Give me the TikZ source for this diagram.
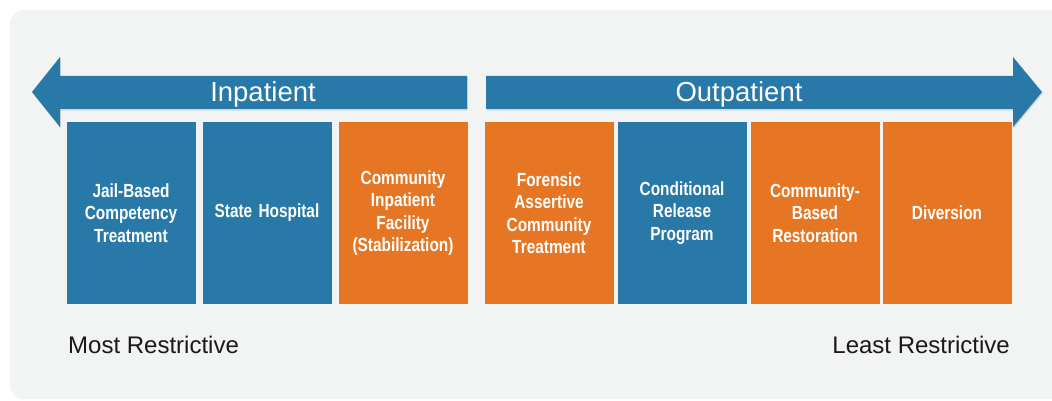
\documentclass[tikz,border=0pt]{standalone}
\usepackage{fontspec}
\setmainfont{Liberation Sans}
\newfontfamily\boxfont[FakeStretch=0.81,WordSpace=0.7]{Liberation Sans}
\usetikzlibrary{shadows}
\definecolor{bg}{RGB}{242,243,243}
\definecolor{cblue}{RGB}{40,120,168}
\definecolor{corange}{RGB}{230,118,36}
\definecolor{ink}{RGB}{25,25,25}
\tikzset{
  box/.style={minimum width=129pt, minimum height=182pt, inner sep=0pt, text width=124pt, align=center, text=white, font=\boxfont\bfseries\fontsize{19}{22.5}\selectfont},
  bluebox/.style={box, fill=cblue},
  orangebox/.style={box, fill=corange},
  band/.style={fill=cblue, drop shadow={opacity=0.25, shadow xshift=0.8pt, shadow yshift=-1.6pt}},
  bandlabel/.style={text=white, font=\fontsize{27.5}{30}\selectfont, inner sep=0pt, anchor=base},
  endlabel/.style={text=ink, font=\fontsize{24}{27}\selectfont, inner sep=0pt}
}
\begin{document}
\begin{tikzpicture}[x=1pt,y=-1pt]
\useasboundingbox (0,0) rectangle (1052,401);
\fill[white] (0,0) rectangle (1052,401);
\begin{scope}
\clip (0,0) rectangle (1052,401);
\fill[bg, rounded corners=14pt] (10,10) rectangle (1075,399);
\end{scope}

% arrows
\fill[band] (32,92) -- (60,57) -- (60,76) -- (467,76) -- (467,109) -- (60,109) -- (60,127) -- cycle;
\fill[band] (486,76) -- (1013,76) -- (1013,57) -- (1042,92) -- (1013,127) -- (1013,109) -- (486,109) -- cycle;
\node[bandlabel] (inp) at (263,102) {Inpatient};
\node[bandlabel] (outp) at (739,102) {Outpatient};

% boxes
\node[bluebox]   (jail)  at (131,213) {Jail-Based\\Competency\\Treatment};
\node[bluebox]   (state) at (267,213) {State Hospital};
\node[orangebox] (cif)   at (403,213) {Community\\Inpatient\\Facility\\(Stabilization)};
\node[orangebox] (fact)  at (549,213) {Forensic\\Assertive\\Community\\Treatment};
\node[bluebox]   (crp)   at (682,213) {Conditional\\Release\\Program};
\node[orangebox] (cbr)   at (815,213) {Community-\\Based\\Restoration};
\node[orangebox] (div)   at (947,213) {Diversion};

% end labels
\node[endlabel, anchor=base west] (most)  at (68,353) {Most Restrictive};
\node[endlabel, anchor=base east] (least) at (1010,353) {Least Restrictive};
\end{tikzpicture}
\end{document}
